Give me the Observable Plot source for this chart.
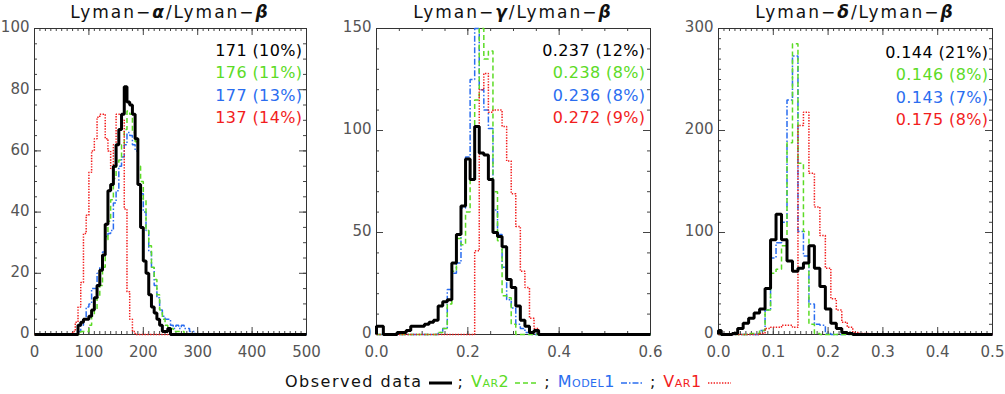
<!DOCTYPE html>
<html>
<head>
<meta charset="utf-8">
<script src="https://cdn.jsdelivr.net/npm/d3@7"></script>
<script src="https://cdn.jsdelivr.net/npm/@observablehq/plot@0.6"></script>
<style>
  html, body { margin: 0; padding: 0; background: #fff; }
  #chart { position: relative; width: 1005px; height: 394px; overflow: hidden; font-family: "DejaVu Sans", sans-serif; }
  .panel { position: absolute; top: 0; }
  .title { position: absolute; top: 2px; font-size: 17px; line-height: 20px; letter-spacing: 2px; color: #111; white-space: nowrap; transform: translateX(-50%); }
  .title b { font-style: italic; }
  .legend { position: absolute; top: 372px; left: 285px; font-size: 16px; line-height: 20px; white-space: nowrap; display: flex; align-items: center; }
  .legend span { display: inline-block; }
  .legend .sc { font-variant: small-caps; letter-spacing: 0.5px; }
  .legend svg { display: inline-block; }
  #chart svg g[aria-label="text"] text { letter-spacing: 0.4px; }
</style>
</head>
<body>
<div id="chart"></div>
<script>
// ---------- colours ----------
const obsColor = "#000000", var2Color = "#5cdb26", model1Color = "#2a6df0", var1Color = "#f21d1d";

// ---------- Panel 1 : Lyman-alpha / Lyman-beta (bin width 5, left edges) ----------
const alphaBinWidth = 5;
const alphaObsStart = 80;
const alphaObs = [3,4,5,5,6,8,12,16,21,26,36,47,49,55,62,67,72,81,76,75,72,64,49,35,24,20,13,9,7,5,3,1,1,2];
const alphaVar2Start = 85;
const alphaVar2 = [1,1,1,3,6,8,12,16,22,31,37,44,51,56,57,62,67,73,72,66,63,55,50,44,34,29,22,18,13,8,5,3,2,2,1,1,1,1];
const alphaModel1Start = 80;
const alphaModel1 = [1,3,5,9,10,15,15,20,22,27,32,33,34,43,47,55,58,62,66,65,62,60,49,46,40,34,27,22,16,12,8,6,5,5,3,2,3,2,3,2,2,1,1];
const alphaVar1Start = 70;
const alphaVar1 = [1,4,9,17,33,39,53,60,64,71,72,72,64,60,54,62,72,72,70,41,14,5,1];
const alphaXTicks = [0,100,200,300,400,500];
const alphaYTicks = [0,20,40,60,80,100];
const alphaStats = ["171 (10%)", "176 (11%)", "177 (13%)", "137 (14%)"];

// ---------- Panel 2 : Lyman-gamma / Lyman-beta (bin width 0.01, centred bins) ----------
const gammaBinWidth = 0.01;
const gammaObsStart = -0.005;
const gammaObs = [4,4,0,0,0,1,1,2,4,4,4,5,6,7,14,16,17,35,49,63,86,76,102,89,88,76,50,48,43,27,23,14,7,4,1,2];
const gammaVar2Start = 0.135;
const gammaVar2 = [1,3,15,31,47,44,60,76,115,150,135,139,70,46,19,18,5];
const gammaModel1Start = 0.135;
const gammaModel1 = [1,3,22,30,35,62,87,125,150,120,110,101,61,49,33,17,13,5,3,1];
const gammaVar1Start = 0.215;
const gammaVar1 = [41,120,128,109,110,110,102,85,69,53,31,23,8,3];
const gammaXTicks = [0,0.2,0.4,0.6];
const gammaYTicks = [0,50,100,150];
const gammaStats = ["0.237 (12%)", "0.238 (8%)", "0.236 (8%)", "0.272 (9%)"];

// ---------- Panel 3 : Lyman-delta / Lyman-beta (bin width 0.01, centred bins) ----------
const deltaBinWidth = 0.01;
const deltaObsStart = -0.005;
const deltaObs = [4,0,0,1,6,11,16,21,25,45,93,118,93,72,62,65,70,87,65,47,25,11,6,2,1];
const deltaVar2Start = 0.055;
const deltaVar2 = [1,1,4,24,60,64,87,188,285,168,101,10,1];
const deltaModel1Start = 0.075;
const deltaModel1 = [4,24,75,90,110,230,273,101,77,30,10,9,1];
const deltaVar1Start = 0.075;
const deltaVar1 = [1,6,7,7,9,9,7,205,218,158,125,97,65,35,24,12,7,2,1,1];
const deltaXTicks = [0,0.1,0.2,0.3,0.4,0.5];
const deltaYTicks = [0,100,200,300];
const deltaStats = ["0.144 (21%)", "0.146 (8%)", "0.143 (7%)", "0.175 (8%)"];

// ---------- styles of the four series ----------
const seriesStyle = {
  obs:    {stroke: obsColor,    strokeWidth: 3,   strokeDasharray: null},
  model1: {stroke: model1Color, strokeWidth: 1.5, strokeDasharray: "6,2,1.5,2"},
  var2:   {stroke: var2Color,   strokeWidth: 1.5, strokeDasharray: "5,3"},
  var1:   {stroke: var1Color,   strokeWidth: 1.5, strokeDasharray: "1.4,1.4"}
};
const statColors = [obsColor, var2Color, model1Color, var1Color];

function stepPoints(start, width, counts, domain) {
  const pts = [{x: domain[0], y: 0}];
  counts.forEach((c, i) => pts.push({x: Math.max(domain[0], start + i * width), y: c}));
  pts.push({x: start + counts.length * width, y: 0});
  pts.push({x: domain[1], y: 0});
  return pts;
}

const panels = [
  {
    title: 'Lyman−<b>α</b>/Lyman−<b>β</b>', left: 0, width: 335, ml: 34, mr: 29,
    x: [0, 500], y: [0, 100], xTicks: alphaXTicks, yTicks: alphaYTicks, xMinor: 10, yMinor: 5,
    xFormat: d3.format("d"), statsDx: -4, statsDy: 16, stats: alphaStats,
    series: {
      obs: [alphaObsStart, alphaObs], var2: [alphaVar2Start, alphaVar2],
      model1: [alphaModel1Start, alphaModel1], var1: [alphaVar1Start, alphaVar1]
    }, bin: alphaBinWidth
  },
  {
    title: 'Lyman−<b>γ</b>/Lyman−<b>β</b>', left: 340, width: 330, ml: 36, mr: 20,
    x: [0, 0.6], y: [0, 150], xTicks: gammaXTicks, yTicks: gammaYTicks, xMinor: 0.05, yMinor: 10,
    xFormat: d3.format(".1f"), statsDx: -5, statsDy: 16, stats: gammaStats,
    series: {
      obs: [gammaObsStart, gammaObs], var2: [gammaVar2Start, gammaVar2],
      model1: [gammaModel1Start, gammaModel1], var1: [gammaVar1Start, gammaVar1]
    }, bin: gammaBinWidth
  },
  {
    title: 'Lyman−<b>δ</b>/Lyman−<b>β</b>', left: 675, width: 330, ml: 43, mr: 13,
    x: [0, 0.5], y: [0, 300], xTicks: deltaXTicks, yTicks: deltaYTicks, xMinor: 0.01, yMinor: 10,
    xFormat: d3.format(".1f"), statsDx: -4, statsDy: 18, stats: deltaStats,
    series: {
      obs: [deltaObsStart, deltaObs], var2: [deltaVar2Start, deltaVar2],
      model1: [deltaModel1Start, deltaModel1], var1: [deltaVar1Start, deltaVar1]
    }, bin: deltaBinWidth
  }
];

const chart = document.getElementById("chart");
const H = 370, MT = 28, MB = 36;
const tickColor = "#444";

panels.forEach(p => {
  const fh = H - MT - MB, fw = p.width - p.ml - p.mr;
  const xMinor = d3.range(p.x[0], p.x[1] + p.xMinor / 2, p.xMinor);
  const yMinor = d3.range(p.y[0], p.y[1] + p.yMinor / 2, p.yMinor);
  const marks = [
    Plot.ruleX(xMinor, {insetTop: fh - 3, stroke: tickColor}),
    Plot.ruleX(xMinor, {insetBottom: fh - 3, stroke: tickColor}),
    Plot.ruleX(p.xTicks, {insetTop: fh - 7, stroke: tickColor}),
    Plot.ruleX(p.xTicks, {insetBottom: fh - 7, stroke: tickColor}),
    Plot.ruleY(yMinor, {insetRight: fw - 3, stroke: tickColor}),
    Plot.ruleY(yMinor, {insetLeft: fw - 3, stroke: tickColor}),
    Plot.ruleY(p.yTicks, {insetRight: fw - 7, stroke: tickColor}),
    Plot.ruleY(p.yTicks, {insetLeft: fw - 7, stroke: tickColor}),
    Plot.frame({stroke: "#333"}),
    Plot.axisX({ticks: p.xTicks, tickSize: 0, tickPadding: 12, tickFormat: p.xFormat, label: null, fontSize: 15}),
    Plot.axisY({ticks: p.yTicks, tickSize: 0, tickPadding: 5, label: null, dy: -1, fontSize: 15})
  ];
  ["model1", "var2", "var1", "obs"].forEach(k => {
    const [start, counts] = p.series[k];
    marks.push(Plot.line(stepPoints(start, p.bin, counts, p.x), {
      x: "x", y: "y", curve: "step-after", ...seriesStyle[k], strokeLinejoin: "miter", strokeLinecap: "butt"
    }));
  });
  p.stats.forEach((s, i) => {
    marks.push(Plot.text([s], {
      text: d => d, frameAnchor: "top-right", textAnchor: "end",
      dx: p.statsDx, dy: p.statsDy + i * 22.5, fill: statColors[i], fontSize: 16
    }));
  });
  const svg = Plot.plot({
    width: p.width, height: H,
    marginTop: MT, marginBottom: MB, marginLeft: p.ml, marginRight: p.mr,
    x: {domain: p.x, label: null},
    y: {domain: p.y, label: null},
    style: {fontFamily: "DejaVu Sans, sans-serif", fontSize: "15px", color: "#555", background: "transparent", overflow: "visible"},
    marks
  });
  const wrap = document.createElement("div");
  wrap.className = "panel";
  wrap.style.left = p.left + "px";
  wrap.appendChild(svg);
  chart.appendChild(wrap);
  const t = document.createElement("div");
  t.className = "title";
  t.style.left = (p.left + p.ml + fw / 2) + "px";
  t.innerHTML = p.title;
  chart.appendChild(t);
});

// ---------- bottom legend ----------
const legendItems = [
  {label: "Observed data", sc: false, color: obsColor, style: "obs"},
  {label: "Var2", sc: true, color: var2Color, style: "var2"},
  {label: "Model1", sc: true, color: model1Color, style: "model1"},
  {label: "Var1", sc: true, color: var1Color, style: "var1"}
];
const legend = document.createElement("div");
legend.className = "legend";
legendItems.forEach((it, i) => {
  const s = document.createElement("span");
  s.textContent = it.label;
  s.style.color = it.sc ? it.color : "#111";
  if (it.sc) s.className = "sc"; else s.style.letterSpacing = "1.5px";
  legend.appendChild(s);
  const st = seriesStyle[it.style];
  const ns = "http://www.w3.org/2000/svg";
  const sv = document.createElementNS(ns, "svg");
  sv.setAttribute("width", 23); sv.setAttribute("height", 20);
  sv.style.margin = "0 6px 0 6px";
  const ln = document.createElementNS(ns, "line");
  ln.setAttribute("x1", 0); ln.setAttribute("x2", 23); ln.setAttribute("y1", 11); ln.setAttribute("y2", 11);
  ln.setAttribute("stroke", st.stroke); ln.setAttribute("stroke-width", st.strokeWidth);
  if (st.strokeDasharray) ln.setAttribute("stroke-dasharray", st.strokeDasharray);
  sv.appendChild(ln);
  legend.appendChild(sv);
  if (i < legendItems.length - 1) {
    const sep = document.createElement("span");
    sep.textContent = ";";
    sep.style.color = "#111";
    sep.style.marginRight = "8px";
    legend.appendChild(sep);
  }
});
chart.appendChild(legend);
</script>
</body>
</html>
